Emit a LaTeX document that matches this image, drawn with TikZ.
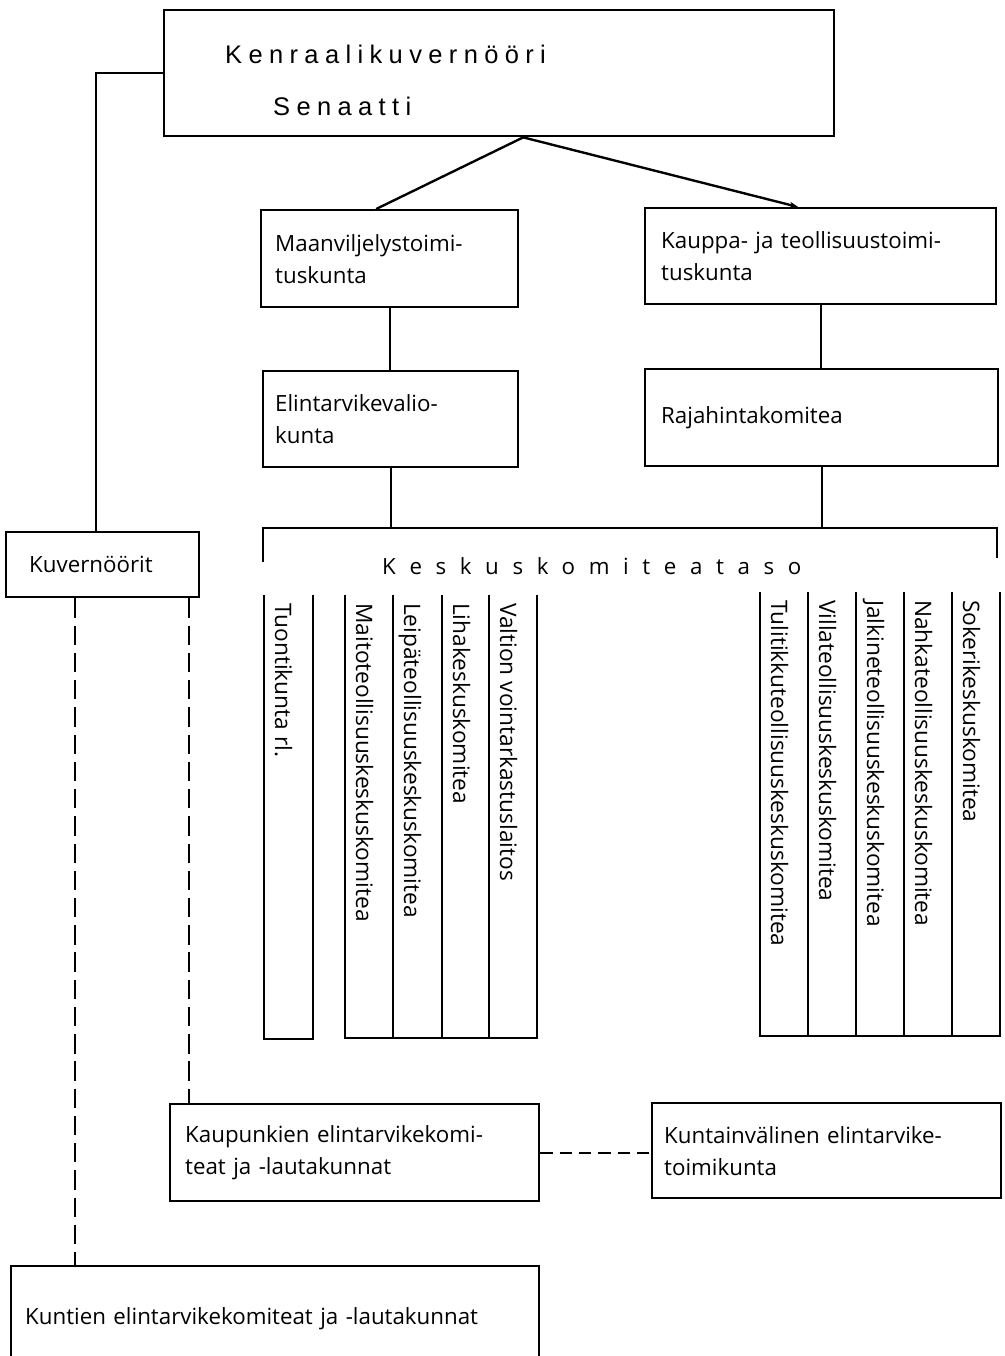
\documentclass[tikz,border=0pt]{standalone}
\usepackage{fontspec}
\setmainfont{Open Sans}
\newfontfamily\widefont[LetterSpace=25]{Liberation Sans}
\newfontfamily\levelfont[LetterSpace=61]{Open Sans}
\usetikzlibrary{arrows.meta}

\begin{document}
\begin{tikzpicture}[x=0.2mm, y=-0.2mm, line width=1.35pt,
    box/.style={draw, anchor=north west, align=left, inner ysep=0pt,
        font=\fontsize{12.7}{18.2}\selectfont},
    coltext/.style={rotate=-90, anchor=base west, inner sep=0pt,
        font=\fontsize{12.9}{15}\selectfont},
    link/.style={dash pattern=on 11pt off 4.5pt}]
    \clip (0,0) rectangle (1005,1356);
    \fill[white] (0,0) rectangle (1005,1356);

    % --- Top level ---
    \node[box, minimum width=134mm, minimum height=25.2mm] (gov) at (163,9) {};
    \node[anchor=base west, inner sep=0pt, font=\widefont\fontsize{14.5}{15}\selectfont] (kenr) at (224,64) {Kenraalikuvernööri};
    \node[anchor=base west, inner sep=0pt, font=\widefont\fontsize{14.5}{15}\selectfont] (sen) at (272,116) {Senaatti};

    % --- Toimituskunnat ---
    \node[box, text width=45.8mm, inner xsep=2.8mm, minimum height=19.4mm] (maa) at (260,209) {Maanviljelystoimi-\\tuskunta};
    \node[box, text width=63.8mm, inner xsep=3.2mm, minimum height=19.2mm] (kau) at (644,207) {Kauppa- ja teollisuustoimi-\\tuskunta};
    \node[box, text width=46.2mm, inner xsep=2.4mm, minimum height=19.2mm] (eli) at (262,370) {Elintarvikevalio-\\kunta};
    \node[box, text width=64.2mm, inner xsep=3.2mm, minimum height=19.4mm] (raj) at (644,368) {Rajahintakomitea};

    \draw ([xshift=4.8mm]gov.south) -- ([xshift=-2.7mm]maa.north);
    \draw[-{Stealth[length=5pt,width=3.5pt]}] ([xshift=4.8mm]gov.south) -- ([xshift=-4.5mm]kau.north);
    \draw (maa.south) -- (maa.south |- eli.north);
    \draw (kau.south) -- (kau.south |- raj.north);

    % --- Keskuskomiteataso ---
    \coordinate (tl) at (263,528);
    \coordinate (tr) at (997,528);
    \draw (263,562) -- (tl) -- (tr) -- (997,558);
    \draw (eli.south) -- (eli.south |- tl);
    \draw (raj.south) -- (raj.south |- tl);
    \node[anchor=base west, inner sep=0pt, font=\levelfont\fontsize{12.7}{15}\selectfont] (taso) at (381,574) {Keskuskomiteataso};

    % columns, left
    \draw (264,595) |- (313,1039) -- (313,595);
    \draw (345,595) |- (537,1038) -- (537,595);
    \foreach \x in {393,442,489} \draw (\x,595) -- (\x,1038);
    \node[coltext] (tuo) at (275,602) {Tuontikunta rl.};
    \node[coltext] (mai) at (356,602) {Maitoteollisuuskeskuskomitea};
    \node[coltext] (lei) at (404,602) {Leipäteollisuuskeskuskomitea};
    \node[coltext] (lih) at (453,602) {Lihakeskuskomitea};
    \node[coltext] (val) at (500,602) {Valtion vointarkastuslaitos};

    % columns, right
    \draw (760,592) |- (1000,1036) -- (1000,592);
    \foreach \x in {808,856,904,952} \draw (\x,592) -- (\x,1036);
    \node[coltext] (tul) at (771,599) {Tulitikkuteollisuuskeskuskomitea};
    \node[coltext] (vil) at (819,599) {Villateollisuuskeskuskomitea};
    \node[coltext] (jal) at (867,599) {Jalkineteollisuuskeskuskomitea};
    \node[coltext] (nah) at (915,599) {Nahkateollisuuskeskuskomitea};
    \node[coltext] (sok) at (963,599) {Sokerikeskuskomitea};

    % --- Kuvernöörit and local level ---
    \node[box, text width=29.4mm, inner xsep=4.6mm, minimum height=13mm] (kuv) at (5,531) {Kuvernöörit};
    \node[box, text width=67.8mm, inner xsep=3mm, minimum height=19.4mm] (kpk) at (169,1103) {Kaupunkien elintarvikekomi-\\teat ja -lautakunnat};
    \node[box, text width=65mm, inner xsep=2.4mm, minimum height=19mm] (kvl) at (651,1102) {Kuntainvälinen elintarvike-\\toimikunta};
    \node[box, text width=100mm, inner xsep=2.8mm, minimum height=20.8mm] (kun) at (10,1265) {Kuntien elintarvikekomiteat ja -lautakunnat};

    \draw (gov.west) -| ([xshift=-1.3mm]kuv.north);
    \coordinate (dl) at (75,0);
    \coordinate (dr) at (189,0);
    \draw[link] (kuv.south -| dl) -- (kun.north -| dl);
    \draw[link] (kuv.south -| dr) -- (kpk.north -| dr);
    \draw[dash pattern=on 7pt off 4pt] (kpk.east) -- (kpk.east -| kvl.west);
\end{tikzpicture}
\end{document}
